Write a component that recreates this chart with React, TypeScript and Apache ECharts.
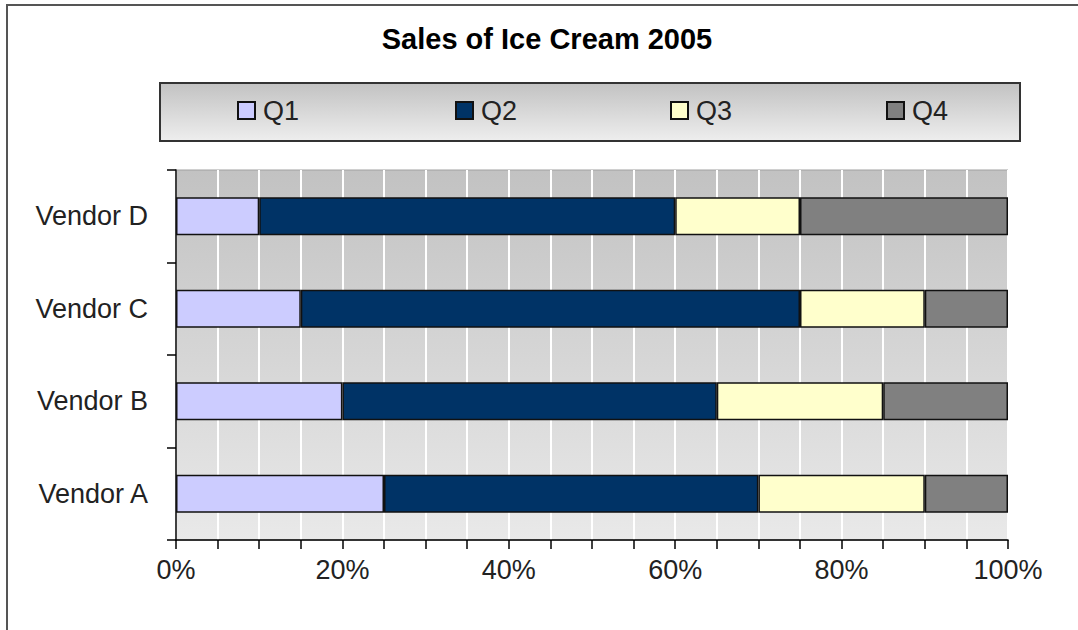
import React, { useEffect, useRef } from "react";
import * as echarts from "echarts";

const titleText = "Sales of Ice Cream 2005";
const vendors = ["Vendor A", "Vendor B", "Vendor C", "Vendor D"];
const quarters = ["Q1", "Q2", "Q3", "Q4"];
const q1 = [25, 20, 15, 10];
const q2 = [45, 45, 60, 50];
const q3 = [20, 20, 15, 15];
const q4 = [10, 15, 10, 25];
const colors = ["#ccccff", "#003366", "#ffffcc", "#808080"];
const legendLefts = [237, 455, 670, 886];

const FONT = "'Liberation Sans', Arial, sans-serif";

export default function App() {
  const ref = useRef<HTMLDivElement>(null);
  useEffect(() => {
    if (!ref.current) return;
    const chart = echarts.init(ref.current, null, { renderer: "svg" });
    const seriesData = [q1, q2, q3, q4];
    const option: any = {
      animation: false,
      backgroundColor: "#ffffff",
      textStyle: { fontFamily: FONT },
      title: {
        text: titleText,
        left: 542,
        top: 19,
        textAlign: "center",
        textStyle: { fontFamily: FONT, fontSize: 29, fontWeight: "bold", color: "#000" },
      },
      graphic: [
        {
          type: "rect",
          z: -10,
          shape: { x: 7, y: 5, width: 1200, height: 800 },
          style: { fill: "none", stroke: "#555555", lineWidth: 2 },
        },
        {
          type: "rect",
          z: -10,
          shape: { x: 160, y: 83, width: 860, height: 58 },
          style: {
            fill: new echarts.graphic.LinearGradient(0, 0, 0, 1, [
              { offset: 0, color: "#c2c2c2" },
              { offset: 1, color: "#eeeeee" },
            ]),
            stroke: "#333333",
            lineWidth: 2,
          },
        },
      ],
      legend: quarters.map((q, i) => ({
        data: [q],
        left: legendLefts[i],
        top: 97,
        padding: 0,
        z: 10,
        itemWidth: 17,
        itemHeight: 17,
        icon: "rect",
        textStyle: { fontFamily: FONT, fontSize: 27, color: "#222", lineHeight: 27, padding: [0, 0, 0, 3] },
      })),
      grid: {
        left: 176,
        top: 170,
        width: 832,
        height: 370,
        show: true,
        borderColor: "#a0a0a0",
        borderWidth: 1,
        backgroundColor: new echarts.graphic.LinearGradient(0, 0, 0, 1, [
          { offset: 0, color: "#c2c2c2" },
          { offset: 1, color: "#e9e9e9" },
        ]),
      },
      xAxis: {
        type: "value",
        min: 0,
        max: 100,
        interval: 20,
        axisLine: { show: true, lineStyle: { color: "#000", width: 1.5 } },
        axisTick: { show: true, length: 9, lineStyle: { color: "#000", width: 1.5 } },
        minorTick: { show: true, splitNumber: 4, length: 9, lineStyle: { color: "#000", width: 1.5 } },
        splitLine: { show: true, lineStyle: { color: "#ffffff", width: 2 } },
        minorSplitLine: { show: true, lineStyle: { color: "#ffffff", width: 2 } },
        axisLabel: {
          formatter: "{value}%",
          margin: 16,
          fontFamily: FONT,
          fontSize: 27,
          color: "#222",
        },
      },
      yAxis: {
        type: "category",
        data: vendors,
        axisLine: { show: true, lineStyle: { color: "#000", width: 1.5 } },
        axisTick: { show: true, length: 9, lineStyle: { color: "#000", width: 1.5 } },
        splitLine: { show: false },
        axisLabel: { margin: 28, fontFamily: FONT, fontSize: 27, color: "#222" },
      },
      series: quarters.map((q, i) => ({
        name: q,
        type: "bar",
        stack: "total",
        barWidth: 38,
        data: seriesData[i],
        itemStyle: { color: colors[i], borderColor: "#111", borderWidth: 1.5 },
      })),
    };
    chart.setOption(option);
    return () => chart.dispose();
  }, []);
  return (
    <div
      ref={ref}
      style={{ position: "fixed", left: 0, top: 0, width: 1078, height: 630 }}
    />
  );
}
